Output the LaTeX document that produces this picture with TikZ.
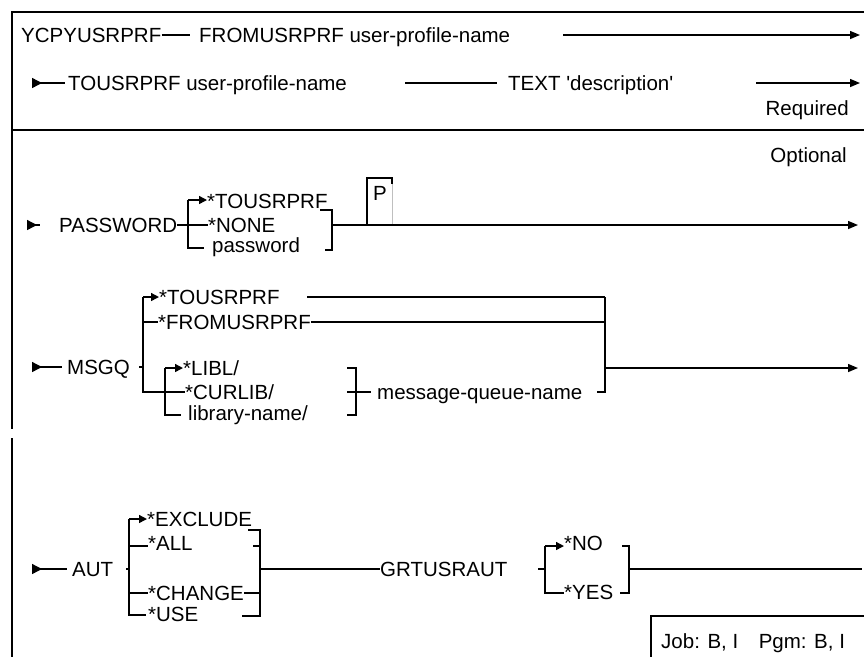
\documentclass[tikz,border=0pt]{standalone}
\usepackage{fontspec}
\setmainfont{Liberation Sans}
\usetikzlibrary{arrows.meta}
\tikzset{
  lbl/.style={anchor=west, inner sep=0pt, text height=14pt, text depth=0pt, font=\fontsize{20.5pt}{24pt}\selectfont},
  rail/.style={line width=1.4pt},
  brk/.style={line width=2.9pt},
  frm/.style={line width=1.9pt},
  goes/.style={-{Triangle[length=10pt,width=8pt]}},
  into/.style={-{Triangle[length=8pt,width=8pt]}},
  enters/.style={{Triangle[reversed,length=10pt,width=10pt]}-},
}
\begin{document}
\begin{tikzpicture}[x=1pt,y=-1pt]
\useasboundingbox (0,0) rectangle (864,657);
% frame
\draw[frm] (864,12) -- (12,12) -- (12,429);
\draw[frm] (12,438) -- (12,657);
\draw[frm] (12,130) -- (864,130);
\draw[frm] (864,616) -- (651,616) -- (651,657);
\node[lbl] (job) at (661,641) {Job: B, I\hspace{1em}Pgm: B, I};

% required parameters
\node[lbl] (cmd) at (21,35) {YCPYUSRPRF};
\node[lbl] (fromprf) at (199,35) {FROMUSRPRF user-profile-name};
\draw[rail, shorten >=9pt] (cmd.east) -- (fromprf.west);
\coordinate (r1a) at (563,35);
\coordinate (r1b) at (860,35);
\draw[rail,goes] (r1a) -- (r1b);
\coordinate (r2s) at (32,83);
\node[lbl] (toprf) at (68,83) {TOUSRPRF user-profile-name};
\draw[rail,enters,shorten >=3pt] (r2s) -- (toprf.west);
\coordinate (r2a) at (405,83);
\node[lbl] (textkw) at (508,83) {TEXT \textquotesingle{}description\textquotesingle};
\draw[rail,shorten >=11pt] (r2a) -- (textkw.west);
\coordinate (r2b) at (756,83);
\coordinate (r2c) at (860,83);
\draw[rail,goes] (r2b) -- (r2c);
\node[lbl,anchor=east] (req) at (849,108) {Required};
\node[lbl,anchor=east] (opt) at (847,155) {Optional};

% PASSWORD
\coordinate (pws) at (27,225);
\coordinate (pwd) at (40,225);
\draw[rail,enters] (pws) -- (pwd);
\node[lbl] (pwkw) at (59,225) {PASSWORD};
\coordinate (pwl1) at (188,200);
\coordinate (pwl2) at (188,225);
\coordinate (pwl3) at (188,248);
\coordinate (pwl4) at (204,248);
\node[lbl] (pwtou) at (207,201) {*TOUSRPRF};
\node[lbl] (pwnone) at (208,225) {*NONE};
\node[lbl] (pwpass) at (212,245) {password};
\draw[brk] (pwl1) -- (pwl3) -- (pwl4);
\draw[rail,into] (pwl1) -- (pwtou.west |- pwl1);
\draw[rail] (pwkw.east) -- (pwl2) -- (pwnone.west);
\coordinate (pwr0) at (320,210);
\coordinate (pwr1) at (332,210);
\coordinate (pwr2) at (332,225);
\coordinate (pwr3) at (332,250);
\coordinate (pwr4) at (325,250);
\draw[brk] (pwr0) -- (pwr1) -- (pwr3) -- (pwr4);
\coordinate (pb1) at (367,225);
\coordinate (pb2) at (367,178);
\coordinate (pb3) at (392,178);
\coordinate (pb4) at (392,184);
\coordinate (pb5) at (392,225);
\draw[frm] (pb1) -- (pb2) -- (pb3) -- (pb4);
\draw[black!25, line width=0.6pt] (pb4) -- (pb5);
\node[lbl,anchor=center] (pchk) at (380,193) {P};
\coordinate (pwend) at (858,225);
\draw[rail,goes] (pwr2) -- (pwend);

% MSGQ
\coordinate (mqs) at (32,367);
\coordinate (mqd) at (62,367);
\draw[rail,enters] (mqs) -- (mqd);
\node[lbl] (mqkw) at (67,367) {MSGQ};
\coordinate (mql1) at (143,297);
\coordinate (mql2) at (143,322);
\coordinate (mql3) at (143,367);
\coordinate (mql4) at (143,392);
\node[lbl] (mqtou) at (159,297) {*TOUSRPRF};
\node[lbl] (mqfrom) at (158,322) {*FROMUSRPRF};
\draw[rail,shorten <=9pt] (mqkw.east) -- (mql3);
\draw[rail,into] (mql1) -- (mqtou.west);
\draw[rail] (mql2) -- (mqfrom.west);
\coordinate (mqi1) at (165,368);
\coordinate (mqi2) at (165,392);
\coordinate (mqi3) at (165,415);
\coordinate (mqi4) at (181,415);
\draw[brk] (mql1) -- (mql4) -- (mqi2);
\node[lbl] (mqlibl) at (183,368) {*LIBL/};
\node[lbl] (mqcur) at (185,392) {*CURLIB/};
\node[lbl] (mqlib) at (188,413) {library-name/};
\draw[brk] (mqi1) -- (mqi3) -- (mqi4);
\draw[rail,into] (mqi1) -- (mqlibl.west);
\draw[rail] (mqi2) -- (mqcur.west);
\coordinate (mqj0) at (347,368);
\coordinate (mqj1) at (356,368);
\coordinate (mqj2) at (347,392);
\coordinate (mqj3) at (356,415);
\coordinate (mqj4) at (347,415);
\draw[brk] (mqj0) -- (mqj1) -- (mqj3) -- (mqj4);
\node[lbl] (mqname) at (377,392) {message-queue-name};
\draw[rail,shorten >=6pt] (mqj2) -- (mqname.west);
\coordinate (mqr1) at (605,297);
\coordinate (mqr2) at (605,322);
\coordinate (mqr3) at (605,368);
\coordinate (mqr4) at (605,392);
\coordinate (mqr5) at (597,392);
\draw[brk] (mqr1) -- (mqr4) -- (mqr5);
\coordinate (mqt) at (307,297);
\draw[rail] (mqt) -- (mqr1);
\draw[rail] (mqfrom.east) -- (mqr2);
\coordinate (mqend) at (858,368);
\draw[rail,goes] (mqr3) -- (mqend);

% AUT
\coordinate (aus) at (32,569);
\coordinate (aud) at (67,569);
\draw[rail,enters] (aus) -- (aud);
\node[lbl] (autkw) at (72,569) {AUT};
\coordinate (aul1) at (129,519);
\coordinate (aul2) at (129,546);
\coordinate (aul3) at (129,569);
\coordinate (aul4) at (129,593);
\coordinate (aul5) at (129,615);
\coordinate (aul6) at (146,615);
\node[lbl] (auexc) at (147,519) {*EXCLUDE};
\node[lbl] (auall) at (148,543) {*ALL};
\node[lbl] (auchg) at (148,593) {*CHANGE};
\node[lbl] (auuse) at (148,614) {*USE};
\draw[brk] (aul1) -- (aul5) -- (aul6);
\draw[rail,into] (aul1) -- (auexc.west);
\draw[rail] (aul2) -- (auall.west |- aul2);
\draw[brk] (aul4) -- (auchg.west);
\draw[rail,shorten <=13pt] (autkw.east) -- (aul3);
\coordinate (aur0) at (248,530);
\coordinate (aur1) at (260,530);
\coordinate (aur2) at (253,546);
\coordinate (aur3) at (260,569);
\coordinate (aur4) at (260,593);
\coordinate (aur5) at (260,616);
\coordinate (aur6) at (242,616);
\draw[brk] (aur0) -- (aur1) -- (aur5) -- (aur6);
\draw[brk] (aur2) -- (aur2 -| aur1);
\draw[brk] (auchg.east) -- (aur4);
\node[lbl] (grt) at (380,569) {GRTUSRAUT};
\draw[rail] (aur3) -- (grt.west);
\coordinate (gl0) at (538,569);
\coordinate (gl1) at (545,546);
\coordinate (gl2) at (545,569);
\coordinate (gl3) at (545,593);
\node[lbl] (gno) at (564,543) {*NO};
\node[lbl] (gyes) at (564,592) {*YES};
\draw[brk] (gl1) -- (gl3) -- (gyes.west |- gl3);
\draw[rail,into] (gl1) -- (gno.west |- gl1);
\draw[rail] (gl0) -- (gl2);
\coordinate (gr0) at (622,546);
\coordinate (gr1) at (629,546);
\coordinate (gr2) at (629,569);
\coordinate (gr3) at (629,593);
\coordinate (gr4) at (620,593);
\draw[brk] (gr0) -- (gr1) -- (gr3) -- (gr4);
\coordinate (gend) at (862,569);
\draw[rail] (gr2) -- (gend);
\end{tikzpicture}
\end{document}
